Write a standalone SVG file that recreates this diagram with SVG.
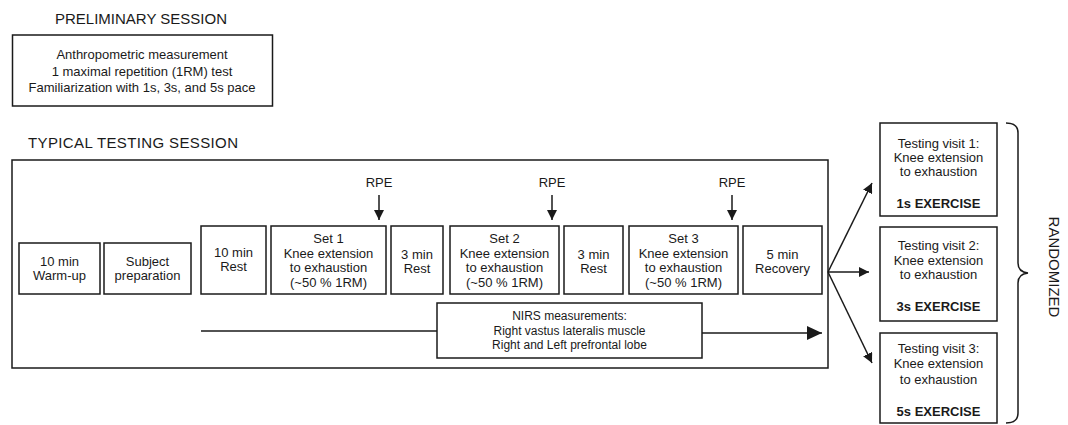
<svg xmlns="http://www.w3.org/2000/svg" width="1068" height="425" viewBox="0 0 1068 425">
<style>
.b{fill:#fff;stroke:#1a1a1a;stroke-width:1.5}
.t{font-family:"Liberation Sans",Arial,sans-serif;font-size:13px;fill:#1a1a1a;text-anchor:middle}
.h{font-family:"Liberation Sans",Arial,sans-serif;font-size:15px;fill:#1a1a1a}
.n{font-family:"Liberation Sans",Arial,sans-serif;font-size:12px;fill:#1a1a1a;text-anchor:middle}
.bd{font-weight:bold}
.c{stroke:#1a1a1a;stroke-width:1.5;fill:none}
</style>
<defs>
<marker id="big" viewBox="0 0 10 10" refX="10" refY="5" markerWidth="10" markerHeight="10" orient="auto" markerUnits="userSpaceOnUse">
<path d="M0,0 L10,5 L0,10 z" fill="#1a1a1a"/>
</marker>
<marker id="bigger" viewBox="0 0 15 14" refX="15" refY="7" markerWidth="15" markerHeight="14" orient="auto" markerUnits="userSpaceOnUse">
<path d="M0,0 L15,7 L0,14 z" fill="#1a1a1a"/>
</marker>
</defs>

<g id="prelim">
<text class="h" x="55" y="24">PRELIMINARY SESSION</text>
<rect class="b" x="12.5" y="35" width="260" height="71"/>
<text class="t" x="142" y="59">Anthropometric measurement</text>
<text class="t" x="142" y="76">1 maximal repetition (1RM) test</text>
<text class="t" x="142" y="92">Familiarization with 1s, 3s, and 5s pace</text>
</g>

<g id="typical">
<text class="h" x="28" y="148" textLength="210" lengthAdjust="spacing">TYPICAL TESTING SESSION</text>
<rect class="b" x="12" y="160" width="816" height="208"/>
</g>

<g id="warmup">
<rect class="b" x="19" y="243" width="81" height="51"/>
<text class="t" x="59.5" y="266">10 min</text>
<text class="t" x="59.5" y="280">Warm-up</text>
</g>
<g id="prep">
<rect class="b" x="104" y="243" width="87" height="51"/>
<text class="t" x="147.5" y="266">Subject</text>
<text class="t" x="147.5" y="280">preparation</text>
</g>
<g id="rest10">
<rect class="b" x="201" y="226" width="65" height="68"/>
<text class="t" x="233.5" y="257">10 min</text>
<text class="t" x="233.5" y="271">Rest</text>
</g>
<g id="set1">
<rect class="b" x="271" y="226" width="115" height="68"/>
<text class="t" x="328.5" y="243">Set 1</text>
<text class="t" x="328.5" y="257.5">Knee extension</text>
<text class="t" x="328.5" y="272">to exhaustion</text>
<text class="t" x="328.5" y="286.5">(~50 % 1RM)</text>
</g>
<g id="rest3a">
<rect class="b" x="391" y="226" width="52" height="68"/>
<text class="t" x="417" y="259">3 min</text>
<text class="t" x="417" y="273">Rest</text>
</g>
<g id="set2">
<rect class="b" x="450" y="226" width="109" height="68"/>
<text class="t" x="504.5" y="243">Set 2</text>
<text class="t" x="504.5" y="257.5">Knee extension</text>
<text class="t" x="504.5" y="272">to exhaustion</text>
<text class="t" x="504.5" y="286.5">(~50 % 1RM)</text>
</g>
<g id="rest3b">
<rect class="b" x="564" y="226" width="59" height="68"/>
<text class="t" x="593.5" y="259">3 min</text>
<text class="t" x="593.5" y="273">Rest</text>
</g>
<g id="set3">
<rect class="b" x="629" y="226" width="109" height="68"/>
<text class="t" x="683.5" y="243">Set 3</text>
<text class="t" x="683.5" y="257.5">Knee extension</text>
<text class="t" x="683.5" y="272">to exhaustion</text>
<text class="t" x="683.5" y="286.5">(~50 % 1RM)</text>
</g>
<g id="recovery">
<rect class="b" x="743" y="226" width="79" height="68"/>
<text class="t" x="782.5" y="259">5 min</text>
<text class="t" x="782.5" y="273">Recovery</text>
</g>

<g id="rpe">
<text class="t" x="379" y="187">RPE</text>
<text class="t" x="552" y="187">RPE</text>
<text class="t" x="732" y="187">RPE</text>
</g>

<g id="nirs">
<rect class="b" x="437" y="303" width="265" height="55"/>
<text class="n" x="569.5" y="320">NIRS measurements:</text>
<text class="n" x="569.5" y="335">Right vastus lateralis muscle</text>
<text class="n" x="569.5" y="349">Right and Left prefrontal lobe</text>
</g>

<g id="visit1">
<rect class="b" x="880" y="123" width="117" height="93"/>
<text class="t" x="938.5" y="148">Testing visit 1:</text>
<text class="t" x="938.5" y="162">Knee extension</text>
<text class="t" x="938.5" y="176">to exhaustion</text>
<text class="t bd" x="938.5" y="208">1s EXERCISE</text>
</g>
<g id="visit2">
<rect class="b" x="880" y="227" width="117" height="94"/>
<text class="t" x="938.5" y="250">Testing visit 2:</text>
<text class="t" x="938.5" y="264.5">Knee extension</text>
<text class="t" x="938.5" y="279">to exhaustion</text>
<text class="t bd" x="938.5" y="311">3s EXERCISE</text>
</g>
<g id="visit3">
<rect class="b" x="880" y="333" width="117" height="90"/>
<text class="t" x="938.5" y="353">Testing visit 3:</text>
<text class="t" x="938.5" y="368">Knee extension</text>
<text class="t" x="938.5" y="384">to exhaustion</text>
<text class="t bd" x="938.5" y="416">5s EXERCISE</text>
</g>

<g id="randomized">
<path class="c" d="M1006,123 Q1018,123 1018,133 L1018,263 Q1018,272 1028,273 Q1018,274 1018,283 L1018,413 Q1018,423 1006,423"/>
<text class="h" transform="translate(1049,267) rotate(90)" text-anchor="middle">RANDOMIZED</text>
</g>

<g id="connectors">
<line class="c" x1="379" y1="195" x2="379" y2="220" marker-end="url(#big)"/>
<line class="c" x1="552" y1="195" x2="552" y2="220" marker-end="url(#big)"/>
<line class="c" x1="732" y1="195" x2="732" y2="220" marker-end="url(#big)"/>
<line class="c" x1="201" y1="331" x2="437" y2="331"/>
<line class="c" x1="702" y1="333" x2="822" y2="333" marker-end="url(#bigger)"/>
<line class="c" x1="828" y1="272" x2="872" y2="183" marker-end="url(#big)"/>
<line class="c" x1="828" y1="272" x2="869" y2="272" marker-end="url(#big)"/>
<line class="c" x1="828" y1="272" x2="872" y2="363" marker-end="url(#big)"/>
</g>
</svg>
